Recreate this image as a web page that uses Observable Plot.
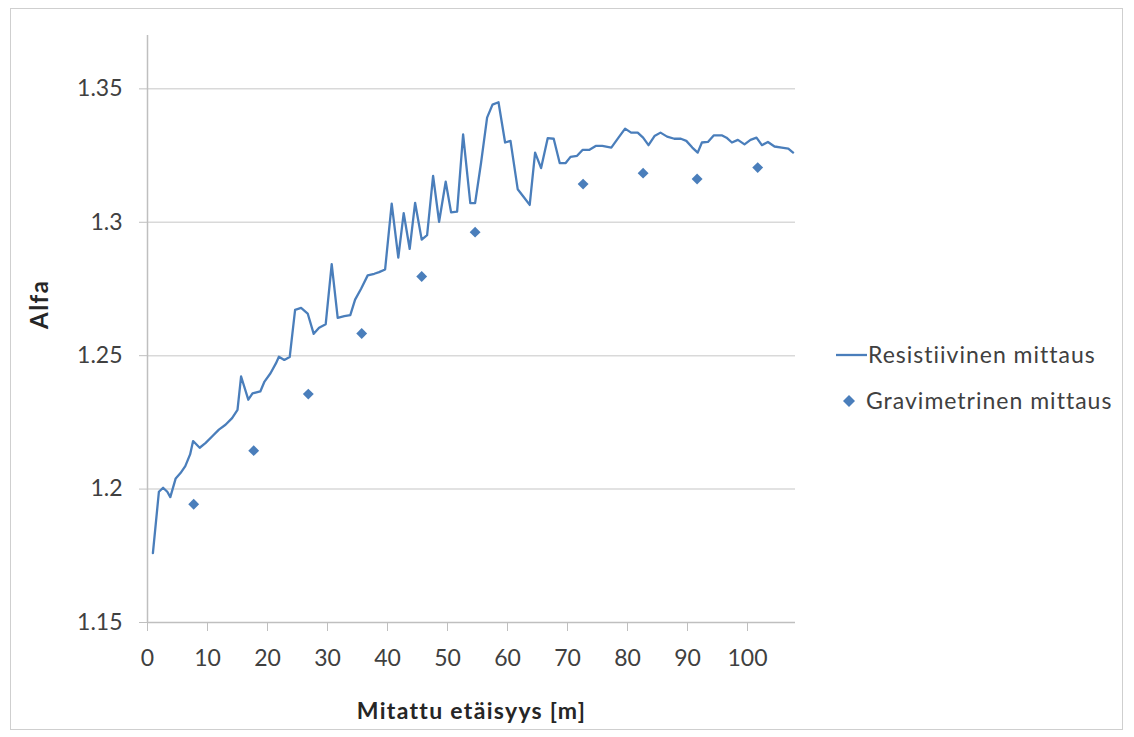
<!DOCTYPE html>
<html>
<head>
<meta charset="utf-8">
<script src="https://cdn.jsdelivr.net/npm/d3@7"></script>
<script src="https://cdn.jsdelivr.net/npm/@observablehq/plot@0.6"></script>
<style>
  html, body { margin: 0; padding: 0; background: #fff; }
  #wrap { position: relative; width: 1134px; height: 737px; overflow: hidden; font-family: Lato, "Open Sans", sans-serif; }
  #frame { position: absolute; left: 10px; top: 8px; width: 1113px; height: 722px; border: 1px solid #cfcfcf; box-sizing: border-box; pointer-events: none; }
  #chart { position: absolute; left: 0; top: 0; }
  .leg { position: absolute; font-size: 23px; letter-spacing: 1px; color: #404040; white-space: nowrap; line-height: 1; }
</style>
</head>
<body>
<div id="wrap">
  <div id="chart"></div>
  <div id="frame"></div>
  <div id="legend"></div>
</div>
<script>
// Resistiivinen mittaus (line)
const resX = [0.9, 1.9, 2.6, 3.3, 3.8, 4.7, 5.5, 6.3, 7.1, 7.6, 8.7, 9.7, 10.8, 11.9, 13.0, 14.1, 15.0, 15.6, 16.8, 17.5,
  18.8, 19.5, 20.5, 21.4, 21.9, 22.8, 23.7, 24.6, 25.6, 26.7, 27.7, 28.6, 29.7, 30.7, 31.7, 32.8, 33.8, 34.6, 35.6, 36.7,
  37.8, 38.6, 39.6, 40.7, 41.8, 42.7, 43.7, 44.6, 45.7, 46.6, 47.6, 48.6, 49.7, 50.6, 51.6, 52.6, 53.8, 54.6, 55.6, 56.6,
  57.5, 58.5, 59.6, 60.5, 61.7, 62.7, 63.7, 64.6, 65.6, 66.7, 67.7, 68.7, 69.7, 70.5, 71.6, 72.5, 73.6, 74.7, 75.8, 77.3,
  78.5, 79.6, 80.6, 81.7, 82.6, 83.5, 84.5, 85.5, 86.6, 87.8, 88.9, 89.8, 90.8, 91.7, 92.4, 93.4, 94.4, 95.7, 96.5, 97.4,
  98.4, 99.5, 100.5, 101.5, 102.4, 103.4, 104.5, 105.7, 106.8, 107.6];
const resY = [1.176, 1.199, 1.2005, 1.199, 1.197, 1.204, 1.206, 1.2086, 1.213, 1.218, 1.2155, 1.2173, 1.2198, 1.2223, 1.2241, 1.2266, 1.2297, 1.2422, 1.2335, 1.2359,
  1.2366, 1.2403, 1.2434, 1.2471, 1.2496, 1.2484, 1.2495, 1.2672, 1.2679, 1.2658, 1.2582, 1.2605, 1.2618, 1.2843, 1.2642, 1.2648, 1.2652, 1.2710, 1.2751, 1.2801,
  1.2807, 1.2813, 1.2823, 1.3070, 1.2868, 1.3034, 1.2900, 1.3073, 1.2935, 1.2952, 1.3174, 1.3002, 1.3152, 1.3037, 1.3040, 1.3329, 1.3072, 1.3072, 1.3224, 1.3392,
  1.3441, 1.3450, 1.3299, 1.3305, 1.3124, 1.3095, 1.3065, 1.3261, 1.3203, 1.3315, 1.3313, 1.3222, 1.3222, 1.3245, 1.3249, 1.3271, 1.3271, 1.3286, 1.3286, 1.3280,
  1.3317, 1.3351, 1.3336, 1.3336, 1.3317, 1.3289, 1.3323, 1.3336, 1.3321, 1.3313, 1.3313, 1.3305, 1.3280, 1.3261, 1.3299, 1.3301, 1.3326, 1.3326, 1.3317, 1.3299,
  1.3309, 1.3292, 1.3309, 1.3317, 1.3289, 1.3301, 1.3284, 1.3280, 1.3276, 1.3261];

// Gravimetrinen mittaus (points)
const gravX = [7.7, 17.7, 26.8, 35.7, 45.7, 54.6, 72.6, 82.6, 91.6, 101.7];
const gravY = [1.1943, 1.2144, 1.2356, 1.2583, 1.2797, 1.2963, 1.3143, 1.3184, 1.3162, 1.3205];

const xTicks = [0, 10, 20, 30, 40, 50, 60, 70, 80, 90, 100];
const yTicks = [1.15, 1.2, 1.25, 1.3, 1.35];
const yGrid = [1.2, 1.25, 1.3, 1.35];
const seriesNames = ["Resistiivinen mittaus", "Gravimetrinen mittaus"];
const xTitle = "Mitattu etäisyys [m]";
const yTitle = "Alfa";

const blue = "#4a7ebb";
const res = resX.map((x, i) => ({x, y: resY[i]}));
const grav = gravX.map((x, i) => ({x, y: gravY[i]}));

const chart = Plot.plot({
  width: 1134,
  height: 737,
  marginLeft: 147,
  marginRight: 339,
  marginTop: 35,
  marginBottom: 115,
  style: {fontFamily: "Lato, 'Open Sans', sans-serif", fontSize: "23px", background: "transparent", color: "#404040"},
  x: {domain: [0, 108]},
  y: {domain: [1.15, 1.37]},
  marks: [
    Plot.ruleY(yGrid, {stroke: "#d9d9d9", strokeWidth: 1.5}),
    Plot.ruleY([1.15], {stroke: "#bfbfbf", strokeWidth: 1.5}),
    Plot.ruleX([0], {stroke: "#bfbfbf", strokeWidth: 1.5}),
    Plot.axisX({ticks: xTicks, tickSize: 9, tickPadding: 18, stroke: "#bfbfbf", fill: "#404040", fontSize: 23, label: null, tickFormat: d => String(d)}),
    Plot.axisY({ticks: yTicks, tickSize: 8, tickPadding: 17, stroke: "#bfbfbf", fill: "#404040", fontSize: 23, label: null, tickFormat: d => String(+d.toFixed(2))}),
    Plot.line(res, {x: "x", y: "y", stroke: blue, strokeWidth: 2.3}),
    Plot.dot(grav, {x: "x", y: "y", symbol: "diamond2", r: 4.9, fill: blue, stroke: "none"}),
    Plot.text([xTitle], {frameAnchor: "bottom", dy: 96, text: d => d, fontWeight: "bold", fill: "#262626", fontSize: 23}),
    Plot.text([yTitle], {frameAnchor: "left", dx: -107, rotate: -90, text: d => d, fontWeight: "bold", fill: "#262626", fontSize: 24})
  ]
});
// widen the axis titles a little, as in the original's font
d3.select(chart).selectAll("text").each(function() {
  const t = this.textContent;
  if (t === xTitle) this.setAttribute("letter-spacing", "1.3");
  if (t === yTitle) this.setAttribute("letter-spacing", "1.5");
});
document.getElementById("chart").appendChild(chart);

// Legend (right side)
const legend = document.getElementById("legend");
legend.innerHTML = `
  <svg style="position:absolute;left:830px;top:340px" width="40" height="72">
    <line x1="6" x2="37" y1="15" y2="15" stroke="${blue}" stroke-width="2.3"/>
    <path d="M19,55 L25,61 L19,67 L13,61 Z" fill="${blue}"/>
  </svg>
  <div class="leg" style="left:868px;top:343px">${seriesNames[0]}</div>
  <div class="leg" style="left:866px;top:389px">${seriesNames[1]}</div>
`;
</script>
</body>
</html>
